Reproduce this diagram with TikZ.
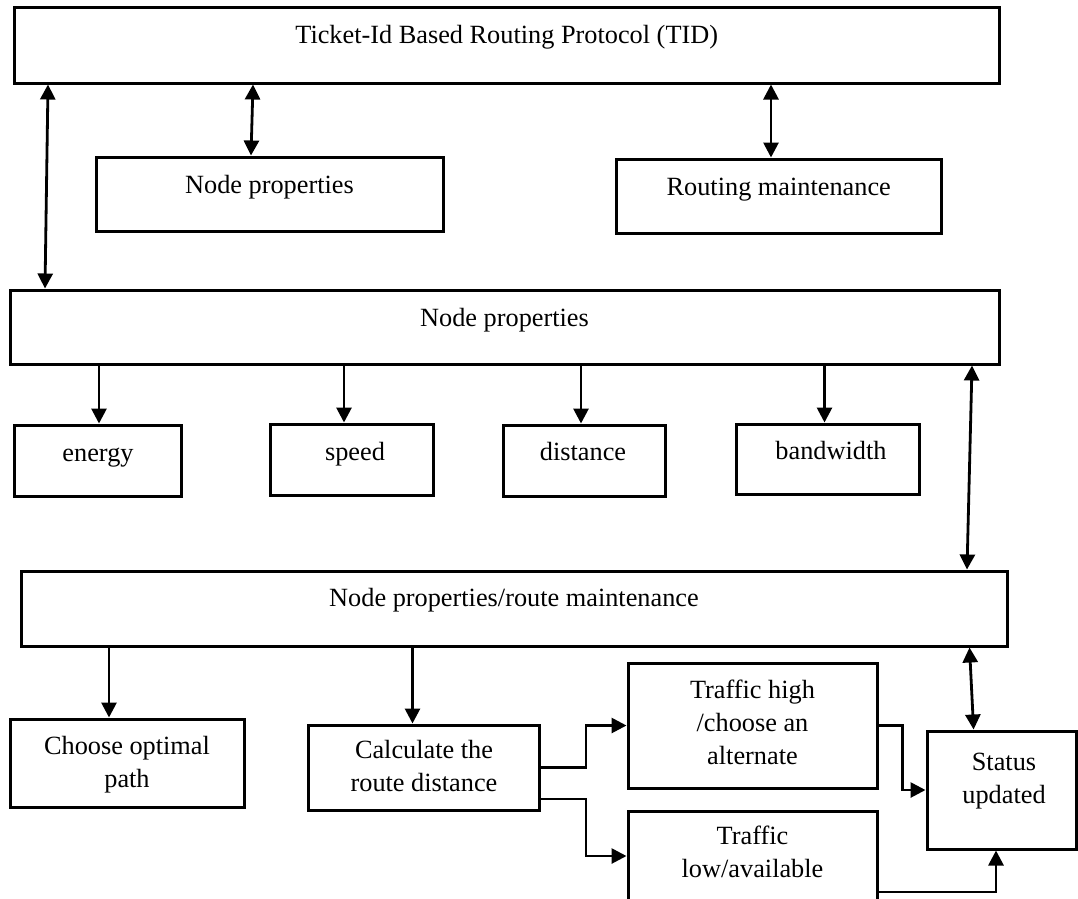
\documentclass[tikz,border=0pt]{standalone}
\usepackage{fontspec}
\setmainfont{Liberation Serif}
\usetikzlibrary{arrows.meta}
\begin{document}
\begin{tikzpicture}[x=1pt,y=-1pt,
  box/.style 2 args={draw,line width=3pt,inner sep=0pt,minimum width=#1pt,minimum height=#2pt},
  txt/.style={font=\fontsize{26.3}{33}\selectfont,align=center,anchor=base,inner sep=0pt},
  arr/.style={line width=2.8pt,-{Triangle[length=15pt,width=15pt]}},
  dbl/.style={line width=2.8pt,{Triangle[length=15pt,width=15pt]}-{Triangle[length=15pt,width=15pt]}}
]
\useasboundingbox (0,0) rectangle (1078,898);
\clip (0,0) rectangle (1078,898);

% boxes
\node[box={984.5}{76}] (top) at (506.75,45) {};
\node[box={347}{74}] (np1) at (269.5,194) {};
\node[box={324.5}{74}] (rm1) at (778.75,196) {};
\node[box={989}{74}] (np) at (504.5,327) {};
\node[box={167}{71}] (energy) at (98,460.5) {};
\node[box={163}{71}] (speed) at (351.5,459.5) {};
\node[box={162}{71}] (distance) at (584,460.5) {};
\node[box={183}{70}] (bandwidth) at (827.5,459) {};
\node[box={986}{75}] (rm) at (514,608.5) {};
\node[box={234}{88}] (choose) at (127,763) {};
\node[box={231}{85}] (calc) at (423.5,767.5) {};
\node[box={249}{125}] (thigh) at (752.5,725.5) {};
\node[box={249}{90}] (tlow) at (752.5,856) {};
\node[box={149}{118}] (status) at (1001.5,790) {};

% texts (anchor base = baseline of the last line)
\node[txt] (ttop) at (506.7,43.3) {Ticket-Id Based Routing Protocol (TID)};
\node[txt] (tnp1) at (269.5,193) {Node properties};
\node[txt] (trm1) at (778.75,195) {Routing maintenance};
\node[txt] (tnp) at (504.5,326.7) {Node properties};
\node[txt] (tenergy) at (98,461.7) {energy};
\node[txt] (tspeed) at (355,460) {speed};
\node[txt] (tdistance) at (583,460.7) {distance};
\node[txt] (tbandwidth) at (831,459) {bandwidth};
\node[txt] (trm) at (514,606.7) {Node properties/route maintenance};
\node[txt] (tchoose) at (127,787.3) {Choose optimal\\path};
\node[txt] (tcalc) at (424,791) {Calculate the\\route distance};
\node[txt] (tthigh) at (752.5,764.3) {Traffic high\\/choose an\\alternate};
\node[txt] (ttlow) at (752.5,877.7) {Traffic\\low/available};
\node[txt] (tstatus) at (1004,803) {Status\\updated};

% x positions for connectors
\coordinate (a1) at (48,0);
\coordinate (a2) at (45,0);
\coordinate (b1) at (253,0);
\coordinate (b2) at (251,0);
\coordinate (c1) at (771,0);
\coordinate (d1) at (99,0);
\coordinate (d2) at (344,0);
\coordinate (d3) at (581,0);
\coordinate (d4) at (824.5,0);
\coordinate (e1) at (972,0);
\coordinate (e2) at (967,0);
\coordinate (f1) at (109,0);
\coordinate (g1) at (412.5,0);
\coordinate (h1) at (969.5,0);
\coordinate (h2) at (973.6,0);

% connectors
\draw[dbl] (top.south -| a1) -- (np.north -| a2);
\draw[dbl] (top.south -| b1) -- (np1.north -| b2);
\draw[dbl] (top.south -| c1) -- (rm1.north -| c1);
\draw[arr] (np.south -| d1) -- (energy.north -| d1);
\draw[arr] (np.south -| d2) -- (speed.north -| d2);
\draw[arr] (np.south -| d3) -- (distance.north -| d3);
\draw[arr] (np.south -| d4) -- (bandwidth.north -| d4);
\draw[dbl] (np.south -| e1) -- (rm.north -| e2);
\draw[arr] (rm.south -| f1) -- (choose.north -| f1);
\draw[arr] (rm.south -| g1) -- (calc.north -| g1);
\draw[dbl] (rm.south -| h1) -- (status.north -| h2);
\draw[arr] (calc.east) -- ++(45.5,0) |- (thigh.west);
\draw[arr] ([yshift=-31.5pt]calc.east) -- ++(45.5,0) |- (tlow.west);
\draw[arr] (thigh.east) -- ++(24,0) |- (status.west);
\draw[arr] ([yshift=-36pt]tlow.east) -| ([xshift=-5.5pt]status.south);
\end{tikzpicture}
\end{document}
